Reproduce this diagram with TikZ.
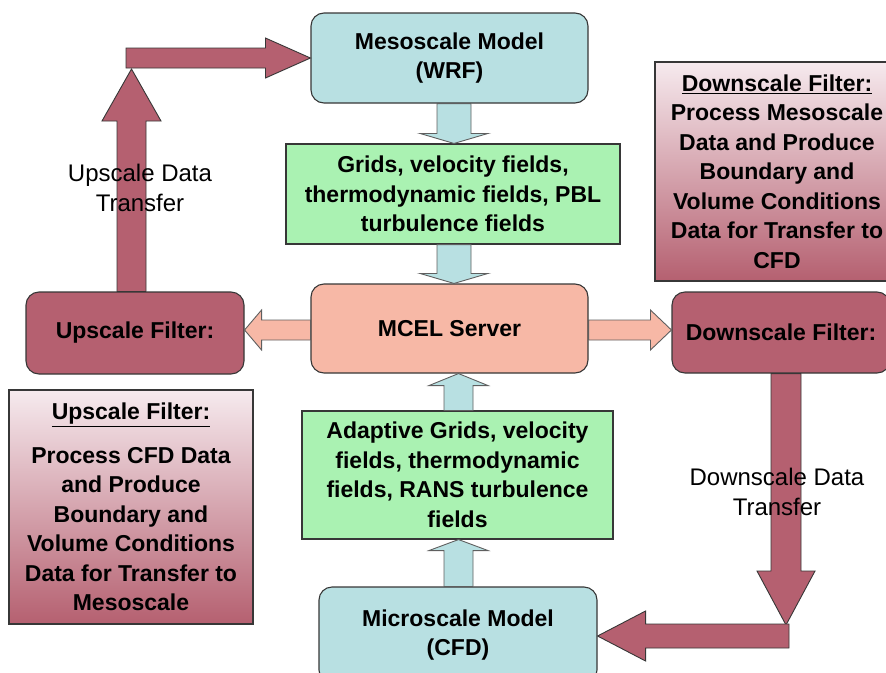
\documentclass[tikz,border=0pt]{standalone}
\usepackage{fontspec}
\setmainfont{Liberation Sans}
\usetikzlibrary{calc}
\definecolor{lblue}{RGB}{184,224,226}
\definecolor{lgreen}{RGB}{170,242,178}
\definecolor{salmon}{RGB}{247,184,166}
\definecolor{rose}{RGB}{181,96,112}
\definecolor{pinktop}{RGB}{246,234,238}
\definecolor{bordc}{RGB}{55,55,55}
\tikzset{
  box/.style={draw=bordc, line width=1.1pt, align=center, inner sep=0pt,
    font=\bfseries\fontsize{23}{29.5}\selectfont},
  rbox/.style={box, rounded corners=13pt},
  modelbox/.style={rbox, fill=lblue},
  fieldbox/.style={box, fill=lgreen},
  serverbox/.style={rbox, fill=salmon},
  filterbox/.style={rbox, fill=rose},
  notebox/.style={box, top color=pinktop, bottom color=rose, shading=axis},
  blueflow/.style={draw=bordc!80, line width=0.9pt, fill=lblue},
  salmonflow/.style={draw=bordc!80, line width=0.9pt, fill=salmon},
  roseflow/.style={draw=bordc, line width=0.9pt, fill=rose},
  flowlabel/.style={align=center, inner sep=0pt, font=\fontsize{24}{30}\selectfont}
}
% vertical block arrow: style, tail, tip, shaft half, head half, head length (+ = down)
\newcommand\varrowshape[6]{%
  \draw[#1] let \p1=(#2), \p2=(#3) in
    (\x2-#4,\y1) -- (\x2-#4,\y2+#6) -- (\x2-#5,\y2+#6) -- (\x2,\y2) --
    (\x2+#5,\y2+#6) -- (\x2+#4,\y2+#6) -- (\x2+#4,\y1) -- cycle;}
% horizontal block arrow: style, tail, tip, shaft half, head half, head length (+ = right)
\newcommand\harrowshape[6]{%
  \draw[#1] let \p1=(#2), \p2=(#3) in
    (\x1,\y2+#4) -- (\x2-#6,\y2+#4) -- (\x2-#6,\y2+#5) -- (\x2,\y2) --
    (\x2-#6,\y2-#5) -- (\x2-#6,\y2-#4) -- (\x1,\y2-#4) -- cycle;}
\begin{document}
\begin{tikzpicture}[x=1pt,y=-1pt]
\useasboundingbox (0,0) rectangle (886,672);
\clip (0,0) rectangle (886,672);

% boxes
\node[modelbox, minimum width=277pt, minimum height=90pt] (meso) at (449.5,58) {Mesoscale Model\\(WRF)};
\node[fieldbox, minimum width=334pt, minimum height=100pt] (grids) at (453,194) {Grids, velocity fields,\\thermodynamic fields, PBL\\turbulence fields};
\node[serverbox, minimum width=277pt, minimum height=89pt] (mcel) at (449.5,328.5) {MCEL Server};
\node[filterbox, minimum width=218pt, minimum height=82pt] (upf) at (135,333) {Upscale Filter:};
\node[filterbox, minimum width=218pt, minimum height=81pt] (dnf) at (781,332.5) {Downscale Filter:};
\node[notebox, minimum width=244pt, minimum height=219pt] (dnote) at (777,171.5) {\underline{Downscale Filter:}\\Process Mesoscale\\Data and Produce\\Boundary and\\Volume Conditions\\Data for Transfer to\\CFD};
\node[notebox, minimum width=244pt, minimum height=234pt] (unote) at (131,507) {\underline{Upscale Filter:}\\[14pt]Process CFD Data\\and Produce\\Boundary and\\Volume Conditions\\Data for Transfer to\\Mesoscale};
\node[fieldbox, minimum width=311pt, minimum height=128pt] (adapt) at (457.5,475) {Adaptive Grids, velocity\\fields, thermodynamic\\fields, RANS turbulence\\fields};
\node[modelbox, minimum width=278pt, minimum height=96pt] (micro) at (458,635) {Microscale Model\\(CFD)};

% bend points of the transfer arrows
\coordinate (utip) at (131.5,69);
\coordinate (ubend) at (126,59);
\coordinate (dtip) at (786,625);
\coordinate (dbend) at (789,636);

% blue flows
\varrowshape{blueflow}{$(meso.south)+(4.5,0)$}{$(grids.north)+(1,0)$}{17pt}{34pt}{10pt}
\varrowshape{blueflow}{$(grids.south)+(1,0)$}{$(mcel.north)+(4.5,0)$}{17pt}{34pt}{10pt}
\varrowshape{blueflow}{$(adapt.north)+(1,0)$}{$(mcel.south)+(9,0)$}{14.5pt}{29.5pt}{-12pt}
\varrowshape{blueflow}{$(micro.north)+(0.5,0)$}{$(adapt.south)+(1,0)$}{14.5pt}{29.5pt}{-11pt}

% salmon flows
\harrowshape{salmonflow}{mcel.west}{$(upf.east)+(0,-3)$}{10pt}{20pt}{-17pt}
\harrowshape{salmonflow}{mcel.east}{$(dnf.west)+(0,-2.5)$}{10pt}{20pt}{21pt}

% upscale transfer
\varrowshape{roseflow}{$(upf.north)+(-3.5,0)$}{utip}{14.5pt}{29.5pt}{-52pt}
\harrowshape{roseflow}{ubend}{meso.west}{10pt}{20pt}{45pt}

% downscale transfer
\varrowshape{roseflow}{$(dnf.south)+(5,0)$}{dtip}{15pt}{29pt}{54pt}
\harrowshape{roseflow}{dbend}{$(micro.east)+(0,1)$}{12pt}{25pt}{-48pt}

% labels
\node[flowlabel] (ulabel) at (140,188) {Upscale Data\\Transfer};
\node[flowlabel] (dlabel) at (777,492) {Downscale Data\\Transfer};
\end{tikzpicture}
\end{document}
